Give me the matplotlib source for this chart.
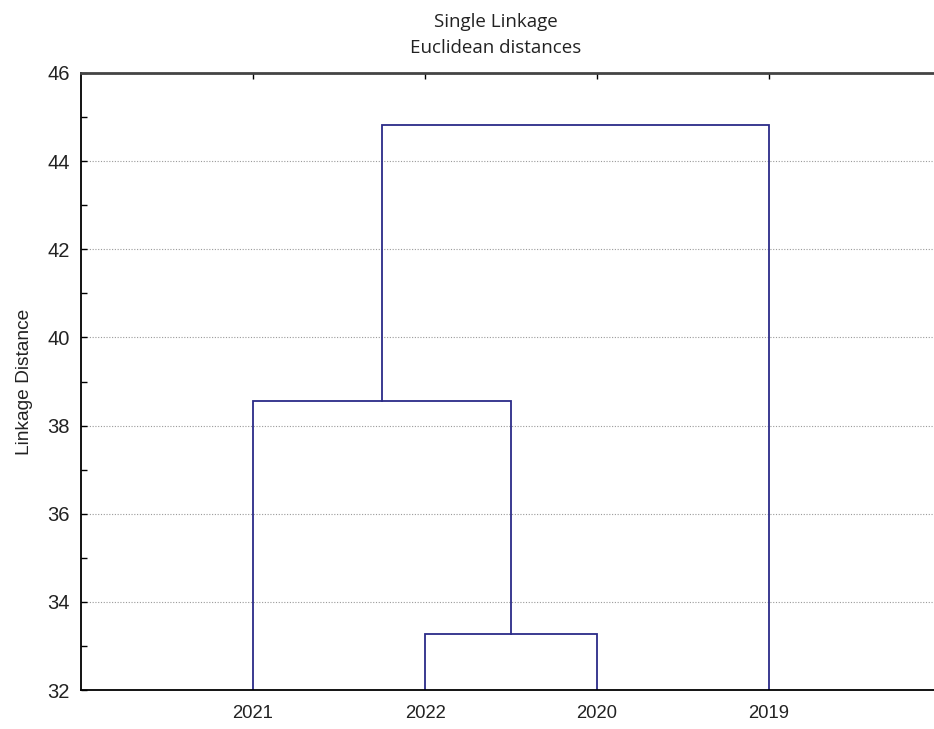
import numpy as np
import matplotlib
matplotlib.use("Agg")
import matplotlib.pyplot as plt

# Leaf order as drawn and merge steps (left member, right member, distance)
leaves = ['2021', '2022', '2020', '2019']
merges = [(1, 2, 33.28), (0, 4, 38.56), (5, 3, 44.82)]

line_col = '#2B2B88'
y_base = 32.0

fig = plt.figure(figsize=(9.34, 7.29), dpi=100)
# right edge of the axes is cut off by the image border
ax = fig.add_axes([81/934, 1-690/729, 860/934, 617/729])

# x position and height of every node (leaves first, then clusters)
node_x = {i: i + 1.0 for i in range(len(leaves))}
node_h = {i: y_base for i in range(len(leaves))}
for k, (a, b, h) in enumerate(merges):
    xa, xb = node_x[a], node_x[b]
    ax.plot([xa, xa, xb, xb], [node_h[a], h, h, node_h[b]],
            color=line_col, lw=1.3, solid_joinstyle='miter')
    nid = len(leaves) + k
    node_x[nid] = (xa + xb) / 2
    node_h[nid] = h

ax.set_xlim(0, 5)
ax.set_ylim(32, 46)
ax.set_yticks(np.arange(32, 47, 2))
ax.set_yticks(np.arange(33, 46, 2), minor=True)
ax.set_xticks(np.arange(1, len(leaves) + 1))
ax.set_xticklabels(leaves)

ax.yaxis.grid(True, which='major', linestyle=(0, (1, 1.5)), color='#9a9a9a', lw=0.8)
ax.set_axisbelow(True)

ax.tick_params(axis='y', which='both', direction='in', length=4, width=1,
               labelsize=14.5, pad=8, labelcolor='#222222')
ax.tick_params(axis='x', which='major', direction='in', length=4, width=1,
               top=True, bottom=False, labelsize=13.3, pad=11, labelcolor='#222222')
for lab in ax.get_xticklabels() + ax.get_yticklabels():
    lab.set_family('Liberation Sans')

for s in ['left', 'bottom']:
    ax.spines[s].set_linewidth(1.3)
ax.spines['top'].set_linewidth(2)
ax.spines['top'].set_color('#444444')
ax.spines['right'].set_visible(False)

ax.set_ylabel('Linkage Distance', fontsize=13.8, family='Liberation Sans',
              color='#222222', labelpad=10.5)
fig.text(496/934, 1 - 27/729, 'Single Linkage',
         ha='center', va='baseline', fontsize=13.5, family='Open Sans', color='#222222')
fig.text(496/934, 1 - 53/729, 'Euclidean distances',
         ha='center', va='baseline', fontsize=13.5, family='Open Sans', color='#222222')

fig.savefig('out.png', dpi=100)
